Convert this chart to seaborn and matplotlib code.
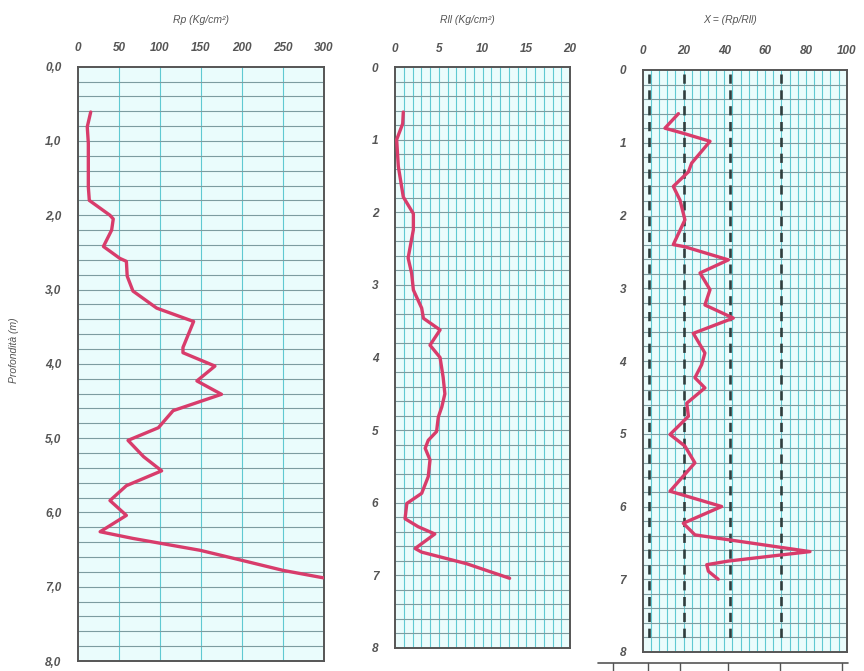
import matplotlib
matplotlib.use("Agg")
import matplotlib.pyplot as plt
import seaborn as sns
import numpy as np
import pandas as pd

sns.set_style("white")
plt.rcParams['font.family'] = ['Liberation Sans', 'DejaVu Sans']

# ---------------- data ----------------
rp_depth = [0.61, 0.81, 1.03, 1.62, 1.80, 2.00, 2.05, 2.20, 2.42, 2.58, 2.62, 2.82, 3.02,
            3.25, 3.43, 3.78, 3.85, 4.03, 4.23, 4.41, 4.63, 4.86, 5.03, 5.25, 5.44, 5.64,
            5.84, 6.04, 6.26, 6.35, 6.51, 6.64, 6.78, 6.88]
rp_value = [15.5, 11.3, 12.6, 12.6, 13.8, 39, 43, 41, 31, 51, 59, 60, 67,
            96, 141, 128, 128, 167, 145, 175, 116, 98, 61, 80, 102, 59,
            39, 59, 27, 67, 149, 198, 250, 299]

rl_depth = [0.62, 0.78, 1.00, 1.37, 1.79, 2.02, 2.24, 2.63, 2.84, 3.07, 3.32, 3.46, 3.62,
            3.83, 4.00, 4.27, 4.50, 4.68, 4.82, 5.02, 5.14, 5.25, 5.41, 5.64, 5.87, 6.01,
            6.22, 6.33, 6.43, 6.63, 6.68, 6.84, 7.04]
rl_value = [0.95, 0.88, 0.19, 0.38, 0.95, 2.1, 2.1, 1.5, 1.9, 2.1, 3.05, 3.25, 5.15,
            4.0, 5.15, 5.5, 5.7, 5.35, 4.95, 4.75, 3.8, 3.45, 4.0, 3.8, 3.05, 1.35,
            1.15, 2.65, 4.55, 2.3, 3.05, 8.2, 13.1]

x_depth = [0.60, 0.80, 0.87, 0.98, 1.28, 1.40, 1.60, 1.79, 2.06, 2.40, 2.43, 2.61, 2.79,
           3.02, 3.23, 3.41, 3.62, 3.89, 4.05, 4.23, 4.37, 4.58, 4.76, 5.01, 5.17, 5.40,
           5.79, 6.00, 6.23, 6.39, 6.46, 6.62, 6.75, 6.80, 6.89, 7.00]
x_value = [17.5, 10.9, 19.9, 33, 24, 22.4, 15, 18.3, 20.7, 15, 20.7, 42, 28.1,
           33, 30.5, 44.4, 24.8, 30.5, 28.9, 25.6, 30.5, 21.6, 22.4, 13.4, 20.7, 25.6,
           13.4, 38.7, 19.9, 25.6, 42.8, 82, 42, 31.4, 32.2, 37]

x_dashed = [3, 20, 43, 68]

rp_ticks = [0, 50, 100, 150, 200, 250, 300]
rl_ticks = [0, 5, 10, 15, 20]
x_ticks = [0, 20, 40, 60, 80, 100]
depth_ticks = [0, 1, 2, 3, 4, 5, 6, 7, 8]

titles = ["Rp (Kg/cm²)", "Rll (Kg/cm²)", "X = (Rp/Rll)"]
ylabel = "Profondità (m)"

# ---------------- styling ----------------
W, H = 864, 671
fig = plt.figure(figsize=(W / 100, H / 100), dpi=100)

BG = "#eafcfc"
HGRID = "#7d9ca0"
VGRID = "#5fc9d2"
FRAME = "#555555"
LINE = "#d83c6b"
TXT = "#555555"

def px_axes(left, right, top, bottom):
    return fig.add_axes([left / W, 1 - bottom / H, (right - left) / W, (bottom - top) / H])

ax1 = px_axes(78, 324, 66.7, 661)
ax2 = px_axes(395, 570, 67, 648)
ax3 = px_axes(642.7, 846.7, 70, 652)

df1 = pd.DataFrame({"depth": rp_depth, "val": rp_value})
df2 = pd.DataFrame({"depth": rl_depth, "val": rl_value})
df3 = pd.DataFrame({"depth": x_depth, "val": x_value})

configs = [
    (ax1, df1, (0, 300), rp_ticks, 50, [f"{d},0" for d in depth_ticks]),
    (ax2, df2, (0, 20), rl_ticks, 1, [str(d) for d in depth_ticks]),
    (ax3, df3, (0, 100), x_ticks, 4, [str(d) for d in depth_ticks]),
]

for ax, df, xlim, xt, vstep, ylabels in configs:
    ax.set_facecolor(BG)
    for v in np.arange(xlim[0] + vstep, xlim[1], vstep):
        ax.axvline(v, color=VGRID, lw=0.8, zorder=1)
    for h in np.arange(0.2, 8.0, 0.2):
        ax.axhline(h, color=HGRID, lw=0.8, zorder=1)
    sns.lineplot(data=df, x="val", y="depth", sort=False, estimator=None,
                 color=LINE, lw=2.4, ax=ax, zorder=3)
    ax.set_xlim(*xlim)
    ax.set_ylim(8, 0)
    ax.xaxis.tick_top()
    ax.set_xticks(xt)
    ax.set_xticklabels([str(t) for t in xt])
    ax.set_yticks(depth_ticks)
    ax.set_yticklabels(ylabels)
    ax.tick_params(axis="x", length=0, pad=9, labelsize=8.5, labelcolor=TXT)
    ax.tick_params(axis="y", length=4, width=0.8, color=HGRID, pad=8,
                   labelsize=8.5, labelcolor=TXT)
    for lab in ax.get_xticklabels() + ax.get_yticklabels():
        lab.set_fontstyle("italic")
        lab.set_fontweight("bold")
    ax.set_xlabel("")
    ax.set_ylabel("")
    for s in ax.spines.values():
        s.set_color(FRAME)
        s.set_linewidth(1.4)
        s.set_visible(True)

ax3.vlines(x_dashed, 0.05, 7.85, colors="#2f3d3d", linestyles=(0, (3.5, 2.5)),
           lw=1.9, zorder=2)

# titles
fig.text(201 / W, 1 - 20 / H, titles[0], ha="center", va="center",
         fontsize=7.5, style="italic", color=TXT)
fig.text(467 / W, 1 - 20 / H, titles[1], ha="center", va="center",
         fontsize=7.5, style="italic", color=TXT)
fig.text(730 / W, 1 - 20 / H, titles[2], ha="center", va="center",
         fontsize=7.5, style="italic", color=TXT)
fig.text(14 / W, 1 - 350 / H, ylabel, rotation=90, ha="center", va="center",
         fontsize=7.5, style="italic", color=TXT)

# partial table under third panel
tab_top = 1 - 663 / H
fig.add_artist(plt.Line2D([598 / W, 848 / W], [tab_top, tab_top],
                          transform=fig.transFigure, color=FRAME, lw=1.2))
for xv in [613, 648, 680, 728, 780, 842]:
    fig.add_artist(plt.Line2D([xv / W, xv / W], [0, tab_top],
                              transform=fig.transFigure, color=FRAME, lw=1.0))

fig.savefig("out.png", dpi=100)
